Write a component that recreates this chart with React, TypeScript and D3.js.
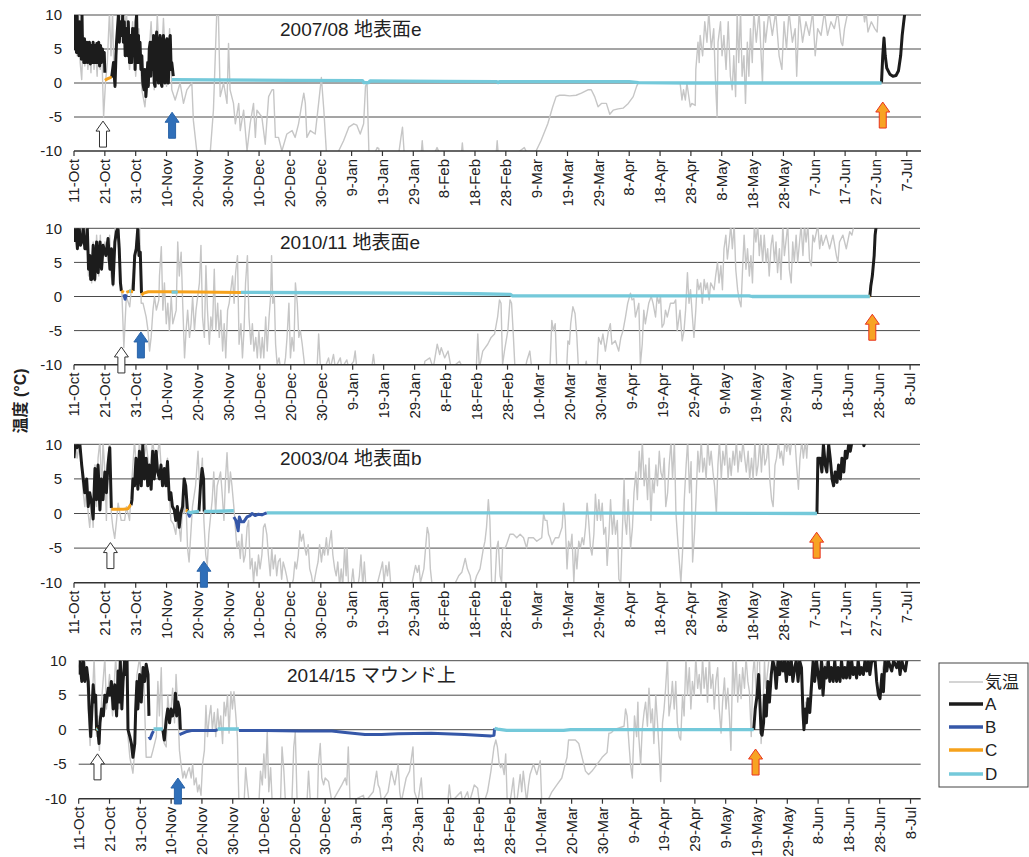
import React from "react";
import * as d3 from "d3";

type Pt = [number, number] | null;
type ArrowKind = "white" | "blue" | "orange";
interface Arrow { kind: ArrowKind; day: number; tip: number }

// ---- 2007/08 地表面e (day offsets from 11-Oct, °C) ----
const air0708: Pt[] = [
  [0,8],[0.5,10.5],[1,4],[1.5,10],[2,3],[2.5,0.5],[3,7],[3.5,2.5],[4,6],[4.5,2],[5,5],[5.5,1.5],[6,6],[6.5,2],[7,5],[7.5,1],[8,6],[8.5,2],[9,5],[9.6,-5],[10.2,0],[10.8,3],[11.5,10.5],[12,4],[12.5,10.5],[13,0],[14,8],[15,10.5],[16,6],[17,10.5],[18,2],[19,9],[20,1],[21,8],[22,-1],[23,-3.5],[24,2],[25,9],[26,-1],[27,10],[28,0],[29,9.5],[30,-0.5],[31,8],
  [31.7,-1],[32.8,-2.5],[34.4,0],[35.5,-3],[36.6,-1],[38.2,0],[38.7,-5.5],[39.8,-10],[40.9,-10.5],[43.1,-10.5],[44.2,-10],[45.2,-4],[46.3,10.5],[46.8,10.5],[47.4,-2],[48.5,0],[49.6,-3],[50.1,5.8],[50.6,-1],[51.7,-3],[52.3,-6],[53.4,-3],[53.9,-7],[55,-4],[56.1,-10],[57.1,-6],[58.2,-3],[58.8,-8],[59.3,-4],[60.9,-5],[62,-9],[63.1,-2],[64.2,-1],[64.7,-1],[65.3,-8],[66.3,-8],[67.4,-10],[69,-7.5],[70.7,-7],[71.7,-8],[72.8,-6],[73.9,-3],[74.5,-1.5],[75,-3],[75.5,-8],[76.6,-7],[78.2,-7.5],[79.3,-3],[80.2,0.8],[81,-4],[81.8,-10],[82.5,-12],[85,-12],[85.8,-10],[87.4,-8.5],[89.1,-6.5],[90.7,-6],[91.7,-6.2],[92.8,-7.5],[93.9,-6],[94.5,-0.5],[95,0],[95.6,-10],[96,-12],[97.8,-10],[98.3,-9.5],[98.8,-9.6],[99.3,-12],[104.8,-12],[106,-8],[106.5,-6.5],[107,-10],[107.5,-12],[112.3,-12],[112.9,-8.5],[113.5,-12],[117.2,-10],[117.7,-9.5],[118.2,-10],[118.7,-12],[125.3,-12],[125.9,-8.8],[126.5,-12],[136.6,-12],[137.2,-8.5],[137.8,-12],[144.5,-10],[146,-9.5],[147.1,-10.5],[149,-10.5],[149.8,-10],[151.4,-8.5],[153.6,-6],[155.2,-3.5],[156.3,-2],[157.4,-1.8],[159,-1.8],[160.7,-1.9],[162.8,-1.8],[164.5,-1.5],[166.6,-1],[167.7,-1],[168.8,-2],[169.9,-3.5],[171,-3],[172.6,-3],[173.7,-4.6],[174.8,-4],[176.4,-3.8],[178,-3.7],[179.7,-3],[181.3,-2],[182.4,-0.5],[182.9,0],[189.5,0],[196.5,0],
  [197.1,-2.5],[197.6,-1],[198.2,-2.5],[198.7,0],[199.8,-3.5],[200.3,-3],[201.4,-3.3],[201.6,2],[202.3,6],[202.7,3],[203,7],[203.8,4],[204.5,9],[205.2,6],[205.8,10.5],[206.6,5],[207.4,8],[207.9,1],[208.5,-5],[208.8,6],[209.6,9],[210.1,4],[210.7,7],[211.4,2],[212.1,9],[212.8,1],[213.4,-1],[213.9,4],[214.5,-2],[215,10.5],[215.5,3],[216.1,10.5],[216.6,1],[217.2,4],[217.7,-3],[218.3,6],[218.8,1],[219.3,8],[219.9,3],[220.4,10.5],[221.2,6],[222.1,10.5],[223.2,0],[223.7,9],[224.2,6],[225.3,10.5],[226.4,7],[227.5,10.5],[228.6,4],[229.5,2],[230.2,9],[231,5],[231.8,10.5],[232.9,6],[233.8,8],[234.3,1],[235.1,10.5],[236.2,6],[237.3,9],[238.4,7],[239.5,10.5],[240.3,4],[241.1,8],[242.2,7],[243.3,10.5],[244.3,7],[245.4,9],[246.5,8],[247.6,10.5],[248.7,6],[249.2,5.5],[249.8,8],[250.9,10.5],[252.5,12],[255.8,11],[256.3,9],[256.8,10.5],[257.4,7.5],[258.5,9],[259.6,8],[260.4,7.5],[260.7,10.5],[262,12],[275,12],
];
const a0708: Pt[] = [
  [0,6],[0.2,10],[0.4,5],[0.6,9],[0.8,4.5],[1,10],[1.2,5],[1.4,8],[1.6,4],[1.8,9],[2,4.5],[2.2,7],[2.4,3.5],[2.6,10],[2.8,4],[3,6],[3.2,3],[3.4,6.5],[3.6,3],[3.8,6],[4,3.5],[4.2,6],[4.4,3],[4.6,5.5],[4.8,3.5],[5,6],[5.3,2.8],[5.6,5.5],[5.9,3],[6.2,6],[6.5,3],[6.8,5.5],[7.1,3],[7.4,5.8],[7.7,3],[8,6],[8.3,2.5],[8.6,5.5],[8.9,3],[9.2,5],[9.5,3.5],[9.8,4.5],[10,1.5],null,
  [12.2,0.8],[12.8,3],[13.3,-0.5],[13.6,4],[13.8,6],[14.1,8],[14.4,10],[14.7,6],[15,9],[15.5,7],[15.8,10],[16,6],[16.3,9],[16.6,4],[17.1,8],[17.4,4],[17.6,9],[18,3],[18.3,7],[18.7,3],[19,8],[19.3,4],[19.6,8],[19.8,2],[20.1,9],[20.3,10],[20.6,3],[20.9,7],[21.1,3],[21.4,6],[21.7,2],[22,4],[22.3,0],[22.7,-1],[23,2],[23.3,-2],[23.6,0],[23.9,3],[24.1,-0.5],[24.4,5],[24.7,6],[24.9,1],[25.2,6],[25.5,2],[25.8,7],[26,0],[26.3,-0.5],[26.5,6],[26.8,7.5],[27.1,1],[27.4,0],[27.6,6],[27.9,7],[28.2,0],[28.5,-0.5],[28.7,6],[29,7],[29.3,1],[29.5,0],[29.8,6],[30.1,6.5],[30.4,0],[30.6,0],[30.9,6],[31.2,7],[31.5,2],[31.7,3],[32.2,1],null,
  [261.8,0.1],[262.2,4],[262.6,6.6],[263,4],[263.5,2.2],[264.5,1.3],[265.5,1],[266.5,1.1],[267.3,1.8],[268,4],[268.5,7],[269,9],[269.4,10.5],
];
const b0708: Pt[] = [];
const c0708: Pt[] = [[10,0.4],[10.8,0.6],[11.8,0.8],[12.2,0.8]];
const d0708: Pt[] = [[31.7,0.5],[45,0.45],[70,0.4],[93.5,0.35],[94,0.05],[95.5,0.05],[96,0.3],[120,0.25],[137,0.2],[137.5,0.05],[138,0.2],[150,0.2],[180,0.2],[183,0.05],[200,0],[261.8,0]];
const arrows0708: Arrow[] = [
  { kind: "white", day: 9.4, tip: -5.6 },
  { kind: "blue", day: 31.8, tip: -4.3 },
  { kind: "orange", day: 262.2, tip: -2.8 },
];

// ---- 2010/11 地表面e ----
const air1011: Pt[] = [
  [0,9],[0.5,10.5],[1,7],[2,10.5],[3,8],[4,10.5],[4.7,3],[5.2,6],[5.7,2],[6.2,8],[6.8,2.2],[7.3,9],[8,3],[8.5,9],[9,4],[10,8],[11,5],[11.5,9],[12,3],[12.6,1.5],[13.3,10.5],[14.5,10.5],[15,3],[15.5,0],[16.1,-7.5],[16.9,0],[18,-1.5],[18.5,1],[19.5,5],[20.1,8],[21.2,10.5],[21.7,-1],[22.3,-1],[23.3,-3],[23.9,-5],[24.4,-8],[24.9,-6],[25.5,-2],[26,0],[26.6,-2],[27.4,-0.5],[27.6,3],[28.2,7.3],[28.7,-2],[29.2,2],[29.8,-4],[30.3,-1],[30.8,-5],[31.4,0],[31.9,-4],[33,-2],[33.5,8],[34,3],[34.6,6.5],[35.1,-1],[35.7,-9],[36.2,-5],[36.7,-2],[37.3,-6],[37.8,-4],[38.3,0],[38.9,-5],[39.4,-2],[40.5,2],[41,7.5],[41.5,-3],[42.1,-6],[42.6,4.5],[43.1,-2],[43.7,-7],[44.2,-3],[44.7,-5],[45.3,4],[45.8,-5],[46.4,-1],[46.9,-6],[47.4,-2],[48,-8],[48.5,-4],[49,-9],[49.6,-2],[50.1,-1],[51.2,3],[51.7,-1],[52.2,3.5],[52.8,6],[53.3,-7],[53.9,-4],[54.4,-9],[54.9,-5],[55.4,2],[56,6],[56.5,-3],[57.1,-7],[57.6,-4],[58.1,-8],[58.7,-6],[59.2,-9],[59.7,-5],[60.3,-9],[60.8,-6],[61.3,-9],[61.9,-3],[62.4,-8],[63,-3],[63.5,0],[63.8,6],[64.2,-1],[64.7,0],[65.1,-7],[65.6,-10],[66.2,-9],[66.7,-10.5],[67.8,-10.5],[68.3,-9],[68.8,-6],[69.4,-1],[69.9,-9],[70.4,-6],[71,-8],[71.5,2],[72.1,-1],[72.6,-6],[73.1,-5],[73.7,-7],[74.2,-9],[74.7,-11],[78,-11],[78.5,-10.5],[79,-5.5],[79.6,-10.5],[80.6,-11],[82.2,-9],[82.8,-10.5],[83.8,-8.5],[84.4,-10.5],[86,-9],[86.5,-10.5],[88.1,-9.3],[88.7,-10.5],[90.3,-9.5],[90.8,-8],[91.3,-10.5],[96,-11],[96.7,-8.5],[97.2,-10.5],[98,-12],[112.5,-12],[113.3,-9.5],[114.9,-9],[116,-10.5],[117.3,-7],[118.1,-8.5],[118.6,-7.5],[119.7,-9],[120.8,-8],[121.8,-10.5],[124.5,-9.5],[125.6,-10.5],[129.9,-10.5],[130.4,-5.5],[130.9,-10.5],[132,-8],[133.6,-7],[134.7,-6],[135.8,-5.5],[136.8,-3],[137.4,-0.5],[137.9,-1],[138.4,-10],[139,-8],[140.1,-5],[140.8,-0.5],[141.3,-1],[141.8,-5],[142.4,-10.5],[145.5,-11],[146.2,-9.5],[147.2,-8],[147.8,-10.5],[153.5,-11],[153.7,-10.5],[154.3,-3.5],[154.8,-5],[155.4,-4],[155.9,-10.5],[159.1,-10.5],[159.5,-6.5],[160,-7],[160.4,-4],[161.1,-1.5],[161.8,-2.5],[162.4,-6],[162.9,-10.5],[165,-10.5],[165.4,-9.5],[165.8,-10.5],[168.9,-10.5],[169.4,-6],[170.2,-7],[170.8,-5.5],[171.6,-8],[172.6,-5],[173.2,-4],[173.7,-7],[174.8,-6.5],[175.9,-8],[176.6,-6],[177.3,-5],[178.1,-3],[178.8,-1],[179.7,0.5],[180.2,-0.5],[180.8,-0.3],[181.3,-3],[182.4,-1],[182.9,-10],[183.5,-7],[184,-2],[184.5,-4],[185.6,-1],[186.4,0],[187,-1],[187.8,-3],[188.3,0],[188.9,-1],[189.4,0],[189.9,-4.5],[190.5,-4],[191,-2],[191.6,-3],[192.6,-1],[193.7,-1],[194.3,-0.5],[194.8,-5],[195.7,-2],[196.4,-6.5],[197,-5],[197.5,-2],[198.1,3.5],[198.6,-1],[199.1,1],[199.7,-3],[200.2,-6],[200.8,-2],[201.3,2.5],[201.8,1],[202.4,2],[202.9,-1],[203.5,2.5],[204,1],[204.5,2],[205.1,-0.5],[205.6,2],[206.7,1],[207.2,3],[207.8,5],[208.3,2],[208.9,4.5],[209.4,1],[209.9,7],[210.5,9],[211,5.5],[211.6,8],[212.1,10.5],[212.6,7],[213.2,10.5],[213.7,4],[214.3,1],[214.8,-0.5],[215.4,-1.5],[215.9,4],[216.4,9],[217,4],[217.5,7],[218.1,3],[218.6,6],[219.1,2],[219.7,10.5],[220.2,8],[220.8,10.5],[221.3,6],[221.8,9],[222.4,5],[222.9,9],[223.5,5],[224,7],[224.5,3],[225.1,7.5],[225.6,9],[226.2,5],[226.7,8],[227.2,3.5],[227.8,7],[228.3,2.5],[228.9,10.5],[229.4,6],[230.5,10.5],[231,4],[231.6,2],[232.1,8],[232.6,5],[233.2,9],[233.7,5],[234.3,8],[234.8,10.5],[235.4,6],[235.9,10.5],[236.4,8],[237,10.5],[237.5,5.5],[238.1,4.5],[238.6,9],[239.1,8],[240.2,10.5],[240.8,7],[241.3,9],[241.8,7.5],[242.9,9],[244,7],[245.1,9],[246.2,6],[246.7,5],[247.2,8],[248.3,9],[249.4,7],[250.5,9.5],[251.2,9],[251.9,10.5],[253,12],[274,12],
];
const a1011: Pt[] = [
  [0,8],[0.3,10],[0.6,10],[1.1,7],[1.4,10],[1.7,10],[2.1,7.5],[2.5,8],[3,10],[3.5,7],[3.9,7],[4.3,10],[4.7,4],[5.1,6],[5.4,2.5],[5.7,2.5],[6.2,7.5],[6.7,2.5],[7.3,8],[7.8,3.5],[8.4,8],[8.9,4],[9.4,7.5],[10.3,6],[11,8.5],[11.6,4],[12.1,7],[12.6,1.8],[13.2,8],[13.7,9.5],[14.2,10],[14.6,7],[15,2],[15.3,0.8],null,
  [19.1,0.8],[19.6,6],[20.1,7],[20.6,10],[21,6],[21.4,6.5],[21.8,0.5],null,
  [257,0],[257.3,1.5],[257.8,3],[258.4,6],[258.7,9],[259.1,10.5],
];
const b1011: Pt[] = [[16.1,0.3],[16.5,-0.4],[16.9,0.3]];
const c1011: Pt[] = [[15.3,0.8],[16.1,0.6],null,[16.9,0.6],[18,0.8],[19.1,0.7],null,[21.8,0.2],[22.5,0.5],[24,0.7],[30,0.7],[40,0.65],[53.9,0.6],null,[256.6,0],[257.1,0.1]];
const d1011: Pt[] = [[17.8,0.8],[18.4,0.8],null,[31.5,0.65],[33.5,0.65],null,[53.9,0.6],[80,0.55],[110,0.5],[130,0.4],[141,0.3],[141.5,0.1],[218,0.1],[219,0],[257,0]];
const arrows1011: Arrow[] = [
  { kind: "white", day: 15.3, tip: -7.4 },
  { kind: "blue", day: 21.6, tip: -5.2 },
  { kind: "orange", day: 257.8, tip: -2.6 },
];

// ---- 2003/04 地表面b ----
const air0304: Pt[] = [
  [0,9],[0.5,10.5],[1,8],[2,10.5],[2.5,6],[3,3],[3.5,1],[4,4],[4.6,0],[5.1,-2],[5.7,2],[6.2,-2],[6.8,7],[7.3,1],[7.8,8],[8.4,10.5],[9,3],[9.4,10.5],[10,6],[10.5,-1],[11,8],[11.6,10.5],[12.1,0],[12.6,-2],[13.2,-3.6],[13.8,-1],[14.3,1.5],[15.3,-1],[16.4,-1],[17,1],[18,-1],[18.5,3],[19.1,7],[19.6,10.5],[20.5,5],[21.2,10.5],[22,6],[23.4,10],[24.5,6],[25.5,10.5],[26.5,7],[27.7,10.5],[28.5,5],[29.3,5],[30.3,8],[31,2],[31.4,-1],[32.2,-1.5],[33,-3],[33.6,0],[34.6,-4],[35.2,1],[35.7,0],[36.2,3],[36.8,-5],[37.3,-7],[38.4,1],[39.4,4],[40.2,9],[40.8,3],[41.6,8],[42.1,-1],[42.7,-6],[43.2,-7.5],[43.7,-3],[44.8,2],[45.3,6],[45.9,0],[46.4,4],[47.5,6],[48,3],[48.6,-1],[49.1,5],[49.6,8.8],[50.2,3],[50.7,6],[51.2,4],[51.8,1],[52.3,-2],[52.8,-5],[53.4,-4],[53.9,-6.5],[54.4,-3],[55,-7],[55.5,-6],[56.1,-2],[56.6,-1],[57.1,-8],[57.7,-6.5],[58.2,-10],[58.7,-7],[59.3,-9],[59.8,-6],[60.3,-8],[60.9,-6],[61.4,-2],[61.9,-1.5],[62.5,-3],[63,-6],[63.6,-9],[64.1,-5],[64.6,-8],[65.2,-6],[65.7,-9],[66.2,-7],[66.8,-6.5],[67.3,-9.5],[67.8,-7],[68.4,-8],[68.9,-9],[69.5,-10.5],[70.5,-10.5],[71.1,-9.5],[71.6,-7],[72.1,-8],[72.7,-6],[73.2,-2.5],[73.7,-4],[74.3,-3],[74.8,-5],[75.3,-6],[75.9,-4.5],[76.4,-8],[77,-9],[77.5,-10.5],[78,-9.5],[78.6,-8],[79.1,-7],[79.6,-4.5],[80.2,-7],[80.7,-5],[81.2,-6],[81.8,-3.5],[82.3,-6],[82.9,-4],[83.4,-2.5],[83.9,-6],[84.5,-8],[85,-9],[85.5,-7],[86.1,-10.5],[86.6,-8],[87.1,-10.5],[87.7,-5],[88.2,-9],[88.5,-5],[89,-10.5],[89.8,-10.5],[90.4,-8],[90.9,-10.5],[92,-10.5],[92.5,-9],[93,-6],[93.6,-10.5],[94.1,-7],[94.6,-10.5],[95,-12],[98,-12],[98.4,-10],[99.5,-8],[100,-7],[100.5,-10],[101.1,-7.5],[101.6,-9],[102.1,-7],[102.7,-10.5],[103.2,-12],[109,-12],[109.6,-10],[110.7,-7.5],[111.3,-8.5],[111.8,-7.5],[112.3,-10],[113.4,-8],[114.5,-2],[115,-3],[115.5,-8],[116.1,-10.5],[116.6,-12],[123,-12],[123.6,-10],[124.7,-9],[125.7,-8.5],[126.8,-6.5],[127.5,-8],[128.4,-9],[128.9,-10.5],[129.5,-10.5],[130.5,-9],[131.6,-8],[132.7,-5],[133.2,-4],[133.7,-2],[134.3,2],[134.8,-1],[135.4,-10.5],[136.4,-10.5],[137,-5],[137.5,-4],[138.1,-9],[138.6,-10],[138.9,-5],[139.7,-5],[140.2,-4.5],[141.3,-3],[142.4,-3],[143.5,-3.5],[144.6,-3],[145.7,-3.5],[146.7,-5],[147.3,-3.5],[147.8,-3.5],[148.9,-3.5],[150,-4],[151.6,-3.5],[152.2,0],[152.7,-1],[153.3,-1],[153.8,-3],[154.3,-3.5],[154.9,-4.5],[156,-3.5],[157.1,-3.5],[158.2,-2],[158.7,1.5],[159.2,-1],[159.8,-8],[160.3,-4],[160.9,-5],[161.4,-3],[162,-10],[162.5,-5],[163,-8],[163.6,-4],[164.1,-5],[164.7,-3.5],[165.2,-4.5],[165.8,-2],[166.3,1.5],[166.8,-1],[167.4,-5],[167.9,-6],[168.5,-3],[169,2.8],[169.6,-1],[170.1,2],[170.7,-1],[171.2,1.5],[171.7,-3],[172.3,-2],[172.8,-7.5],[173.4,-3],[173.9,2],[174.5,-3],[175,0],[175.5,-3],[176.1,-1],[176.6,-9.5],[177.2,-10],[177.7,-3],[178.3,5],[178.6,-1],[179.1,-3],[179.6,2],[180,-1],[180.4,-5],[181,-2],[181.5,3],[182.1,6],[182.6,2],[183.2,9],[183.7,5],[184.2,10.5],[184.8,4],[185.3,7],[185.9,2],[186.4,8],[187,-1],[187.5,5],[188,3],[188.6,7],[189.1,4],[189.7,9],[190.2,6],[190.8,5],[191.3,8],[191.8,1],[192.4,3],[192.9,7],[193.5,10.5],[194,5],[194.6,10.5],[195.1,0],[195.7,-4],[196.2,-7],[196.7,-10],[197.3,-5],[197.8,2],[198.4,7],[198.9,10.5],[199.5,3],[200,7.5],[200.5,-7],[201.1,-3],[201.6,2],[202.2,9],[202.7,6],[203.3,10.5],[203.8,6],[204.3,8],[204.9,5],[205.4,10.5],[206,7],[206.5,9],[207.1,6],[207.6,4],[208.2,0],[208.7,7],[209.2,10.5],[209.8,5],[210.3,9],[210.9,7],[211.4,10.5],[212,5],[212.5,8],[213,5.5],[213.6,9],[214.1,7],[214.7,10.5],[215.2,6],[215.8,9],[216.3,7.5],[216.8,10.5],[217.4,8],[217.9,6],[218.5,9],[219,5],[219.6,8],[220.1,5],[220.7,10.5],[221.2,5.5],[221.7,7],[222.3,10.5],[222.8,6],[223.4,10.5],[223.9,7],[224.5,8],[225,10.5],[225.5,5],[226.1,2],[226.6,1],[227.2,7],[227.7,8],[228.3,10.5],[228.8,8],[229.3,9],[229.9,7],[230.4,10.5],[231,9],[231.5,10.5],[232.1,8.5],[232.6,10.5],[233.7,10.5],[234.2,7],[234.8,3.5],[235.3,8],[235.9,10.5],[236.4,8],[237,10.5],[237.5,8],[238,12],[275,12],
];
const a0304: Pt[] = [
  [0,8],[0.3,10],[0.6,10],[1,9.5],[1.4,10],[1.9,10],[2.5,7],[3,5],[3.5,3],[4.1,5],[4.6,1],[5.1,3],[5.7,1.5],[6.2,-0.8],[6.8,6.5],[7.3,2],[7.8,7],[8.4,0.5],[8.9,5],[9.4,2],[10,6],[10.5,3],[11,7],[11.6,9.5],[12.1,0.8],null,
  [18.5,1.2],[18.8,2],[19.1,5],[19.6,4],[20.1,8],[20.7,3.5],[21.2,9],[21.8,4],[22.3,10],[22.8,5],[23.4,8],[23.9,4],[24.4,7],[25,3.5],[25.5,9],[26,5],[26.6,9],[27.1,6],[27.7,5],[28.2,7],[28.7,4],[29.3,6.5],[29.8,4],[30.3,7.5],[30.9,2],[31.4,3],[31.9,1],[32.5,0.5],[33,-1],[33.5,1],[34.1,-2],[34.6,0],[35.2,1],[35.7,5],[36.2,4],[36.8,0.3],null,
  [40.5,0.3],[41,4],[41.5,6.5],[42,5],[42.2,0.3],null,
  [240.8,0],[241.1,8],[241.8,8],[242.4,6],[242.9,10],[243.5,7],[244,6],[244.6,10],[245.1,8],[245.7,5],[246.2,4],[246.7,6],[247.3,4.5],[247.8,7],[248.4,5],[248.9,8],[249.5,6],[250,9],[250.5,8],[251.1,10],[251.6,9],[252.2,10.5],null,
  [255.8,10.5],[256,9.8],[256.5,10.5],
];
const b0304: Pt[] = [[36.9,0.2],[37.4,-0.4],[37.9,0.1],null,[51.8,-0.5],[52.5,-1],[53.2,-2.5],[53.6,-0.5],[54.2,-1.2],[55,-1.2],[56.1,-0.5],[57.1,-0.3],[57.7,0],[58.7,-0.3],[59.8,-0.1],[60.9,-0.2],[61.9,0],[62.5,0.1]];
const c0304: Pt[] = [[12.1,0.6],[14,0.6],[16,0.6],[17.5,0.7],[18.3,1.2],[18.5,1.2],null,[36.2,0.5],[36.8,0.4]];
const d0304: Pt[] = [[36.8,0.3],[37.9,0.1],[38.5,0.2],[40.5,0.3],null,[42.2,0.3],[45,0.3],[51.8,0.4],null,[62.5,0.1],[100,0.1],[140,0.1],[240.8,0]];
const arrows0304: Arrow[] = [
  { kind: "white", day: 11.8, tip: -4.2 },
  { kind: "blue", day: 42.1, tip: -6.9 },
  { kind: "orange", day: 240.7, tip: -2.7 },
];

// ---- 2014/15 マウンド上 ----
const air1415: Pt[] = [
  [0,9],[0.5,10.5],[1,7],[2,10.5],[2.8,6],[3.4,0],[3.7,-2.3],[4.2,2],[5,10.5],[5.8,-1],[6.2,2],[6.7,-3],[7.4,4],[8.5,10.5],[9,3],[10,8],[11,2],[12,10.5],[13,3],[14,10.5],[15,10.5],[15.7,10],[16,-1],[16.6,-4],[17.6,-6.3],[18.2,-3],[18.9,8],[19.8,10.5],[20.5,6],[21,9],[21.9,-4],[23,-4],[23.5,-4],[24.1,-3],[25.2,-1],[25.7,7],[26.2,2],[26.8,9],[27.3,-1],[27.8,-2],[28.4,-2.5],[28.9,5],[29.5,2],[30,3],[30.5,6],[31.1,1],[31.6,8],[32.2,3],[32.7,-3],[33.2,-5],[33.8,-7],[34.3,-6],[34.8,-7],[35.4,-6],[35.9,-5.5],[36.5,-7],[37,-5],[37.5,-8],[38.1,-7],[38.6,-9],[39.1,-8],[39.7,-9.5],[40.2,-5],[40.8,-3],[41.3,3.5],[41.8,-1],[42.4,2],[42.9,3.5],[43.4,0],[44,2.5],[44.5,-1],[45.1,3],[45.6,0],[46.1,2],[46.7,-2],[47.2,4],[47.7,2],[48.3,5],[48.8,-0.5],[49.4,5.5],[49.9,3],[50.4,5.5],[51,2],[51.5,-1],[51.8,-7],[52,-10.5],[53.7,-10.5],[54.2,-5.5],[54.7,-8],[55.3,-10.5],[58.5,-10.5],[59,-6],[59.6,-8],[60.1,-3.5],[60.6,-7],[61.2,-0.3],[61.7,-9],[62.3,-5.5],[62.8,-10.5],[65.5,-10.5],[66,-2.5],[66.6,-6],[67.1,-10.5],[69.2,-10.5],[69.8,-2.5],[70.3,-0.3],[70.9,-10.5],[74.1,-10.5],[74.6,-6],[75.2,-10.5],[77.5,-10.5],[77.8,-5],[78.4,-2],[78.9,-7],[79.5,-8],[80,-7],[81.1,-7.5],[82.2,-10.5],[85.4,-8],[86.5,-7],[87,-8],[87.5,-2.5],[88.1,-10.5],[92.4,-9.5],[92.9,-10.5],[95.6,-9],[96.7,-6],[97.2,-8],[97.7,-8.5],[98.3,-10.5],[100.4,-9],[101.5,-6],[102.6,-8],[103.7,-5],[104.2,-9],[104.7,-10.5],[106.3,-7],[107.4,-6],[108.5,-2.5],[109,-9],[110.1,-10.5],[111.2,-7],[111.7,-10.5],[112.5,-12],[119.5,-12],[120.3,-8],[120.9,-10.5],[124.1,-9],[124.6,-10.5],[126.2,-9],[126.8,-10.5],[127.8,-9],[128.4,-8],[129.5,-8.5],[130,-10.5],[131.6,-10.5],[132.7,-9],[133.8,-6],[134.8,-2.5],[135.4,-1.5],[135.9,-2.5],[136.5,-5],[137,-5.5],[137.5,-5],[138.1,-6.5],[138.6,-3.5],[139.1,-10.5],[140,-10.5],[140.5,-9],[141.1,-7],[141.6,-10.5],[142.2,-10.5],[143.3,-6.5],[143.8,-9],[144.3,-6],[145.4,-10.5],[146,-8],[146.5,-6.5],[147.6,-5],[148.7,-6.5],[149.8,-4.5],[150.3,-10.5],[152,-10.5],[153.6,-9],[155.2,-8],[156.8,-7],[157.9,-5],[158.5,-4],[159,-1.5],[160.1,-1.5],[161.2,-1.5],[162.3,-2],[163.4,-4],[164.5,-6],[165.5,-6.5],[166.6,-6],[168.3,-5],[169.9,-4],[171.5,-3.3],[172.1,-0.5],[172.6,-0.5],[173.2,-0.3],[173.7,0],[177,0.5],[177.5,3],[178,2],[178.6,-2],[179.1,-5],[179.7,-7],[180,-3],[180.4,2],[181.1,-1],[181.5,4],[181.8,-1],[182.4,-5],[182.9,0],[183.5,2.5],[184,4],[184.6,0.5],[185.1,6],[185.7,1],[186.2,3],[186.7,-2],[187.3,5],[187.8,1.5],[188.4,-3],[188.9,-7.5],[189.5,1],[190,3],[190.5,6],[191.1,10.5],[191.6,2],[192.2,4],[192.7,7],[193.3,3],[193.8,7],[194.3,1],[194.9,-1],[195.4,-1.5],[196,5],[196.5,2],[197.1,10.5],[197.6,5],[198.2,9],[198.7,3],[199.2,7],[199.8,5],[200.3,10.5],[200.9,6],[201.4,8],[202,5],[202.5,10.5],[203,6],[203.6,9],[204.1,4],[204.7,10.5],[205.2,6],[205.8,8],[206.3,3],[206.8,7],[207.4,9],[207.9,3],[208.5,-0.5],[209,4],[209.6,7.5],[210.1,3],[210.7,6],[211.2,2],[211.7,-3],[212.3,10.5],[212.8,5],[213.4,10.5],[213.9,4],[214.5,8],[215,4.5],[215.5,9],[216.1,6],[216.6,10.5],[217.2,7],[217.7,5.5],[218.3,-1],[218.8,8],[219.3,10.5],[219.9,5],[220.4,10.5],[221,10],[221.5,-2],[222.1,3],[222.6,10],[223,6],[224,10],[225,11],[227,9],[229,12],[231,9],[233,12],[234.5,9],[235.2,1],[235.4,0.3],[236,4],[237,3],[238,9],[240,12],[242,9],[245,12],[248,10],[250,12],[253,10],[256,12],[258.5,11],[259.5,5],[260,4.5],[261,9],[263,12],[266,10],[268,12],[274,12],
];
const a1415: Pt[] = [
  [0,8],[0.4,10],[1,7],[1.5,10],[2,7],[2.6,9],[3.1,7],[3.4,3],[3.9,-1],[4.3,3],[4.7,6.5],[5.1,4],[5.5,5],[5.8,0],[6.1,0.5],[6.6,-2],[6.9,1],[7.4,3],[8,2],[8.5,5],[9,4],[9.6,6],[10.1,5],[10.6,7],[11.2,3],[11.7,6.5],[12.3,2],[12.8,8.5],[13.1,4],[13.5,10],[14,3],[14.4,7],[14.9,10],[15.3,8],[15.7,10],[16,0],[16.6,-1],[17.1,-2],[17.6,-4],[18.2,-2],[18.5,3],[18.9,7],[19.2,3],[19.8,8],[20.3,4],[20.9,9],[21.4,7],[21.9,9.5],[22.5,8],[22.8,2],null,
  [27.3,0],[27.8,-1.5],[28.4,1.5],[28.9,3],[29.5,1],[30,3],[30.5,2],[31.1,3],[31.4,5.3],[31.8,2],[32.2,4],[32.7,3],[33,0],null,
  [219.1,0],[219.6,3],[220.2,5],[220.7,8],[221.1,4],[221.5,-0.5],[221.8,-0.8],[222.3,1],[222.6,5],[223.2,2],[223.7,7],[224.2,4],[224.8,8],[225.3,10],[225.9,9],[226.4,6],[227,10],[227.5,8],[228,10],[228.6,8.5],[229.1,10],[229.7,7],[230.2,10],[230.8,8],[231.3,10],[231.8,7],[232.4,9],[232.9,10],[233.5,7],[234,10],[234.6,9],[235.1,2.4],[235.4,0],[235.9,3],[236.2,1],[236.7,4.5],[237.3,2.5],[237.8,6],[238.4,10],[238.9,7],[239.5,10],[240,8],[240.5,6],[241.1,10],[241.6,5],[242.2,9],[242.7,7.5],[243.3,10],[243.8,7],[244.3,9],[244.9,7],[245.4,10],[246,7],[246.5,9],[247.1,7],[247.6,10],[248.2,7.5],[248.7,9],[249.2,7.5],[249.8,10],[250.3,7.5],[250.9,10],[251.4,8],[252,9],[252.5,7.5],[253,10],[253.6,8],[254.1,9],[254.7,8],[255.2,10],[255.8,8.5],[256.3,10],[256.8,8],[257.4,10],[258.5,10],[259,7],[259.6,5],[260.1,4.5],[260.7,8],[261.2,5.5],[261.7,10],[262.3,8.5],[262.8,10],[263.9,8.5],[264.5,10],[265.5,9],[266.1,10],[266.6,8],[267.2,10],[267.7,9],[268.3,8.5],[268.8,10],
];
const b1415: Pt[] = [[22.8,-1],[23.2,-1.3],[23.9,-0.5],[24.3,-0.2],null,[32.7,-0.7],[34.8,-0.3],[37,-0.1],[44.5,-0.1],[45.1,0],null,[52,-0.1],[60.6,-0.1],[71.4,-0.2],[82.2,-0.2],[86.5,-0.4],[92.9,-0.7],[98.3,-0.7],[103.7,-0.6],[114.4,-0.5],[125.2,-0.7],[133.8,-0.9],[134.8,-0.8],[135,0.2]];
const c1415: Pt[] = [[5.6,0.1],[6,0.1]];
const d1415: Pt[] = [[5.8,0],[6.1,0.1],null,[24.3,0.1],[27.3,0.1],null,[45.1,0.1],[52,0.1],null,[135,0.2],[136,0.1],[138.9,-0.1],[157.4,-0.1],[159.6,0],[219.1,0]];
const arrows1415: Arrow[] = [
  { kind: "white", day: 6.1, tip: -3.5 },
  { kind: "blue", day: 32.2, tip: -7 },
  { kind: "orange", day: 219.7, tip: -2.8 },
];

const titles = ["2007/08 地表面e", "2010/11 地表面e", "2003/04 地表面b", "2014/15 マウンド上"];
const seasonStarts = [Date.UTC(2007, 9, 11), Date.UTC(2010, 9, 11), Date.UTC(2003, 9, 11), Date.UTC(2014, 9, 11)];
const yTicks = [-10, -5, 0, 5, 10];
const legendItems = ["気温", "A", "B", "C", "D"];

const COLORS: Record<string, string> = { 気温: "#c6c6c6", A: "#1c1c1c", B: "#3557a8", C: "#f6a21c", D: "#74c9da" };
const WIDTHS: Record<string, number> = { 気温: 1.4, A: 3, B: 3, C: 3, D: 3.3 };

const panelData = [
  { air: air0708, A: a0708, B: b0708, C: c0708, D: d0708, arrows: arrows0708 },
  { air: air1011, A: a1011, B: b1011, C: c1011, D: d1011, arrows: arrows1011 },
  { air: air0304, A: a0304, B: b0304, C: c0304, D: d0304, arrows: arrows0304 },
  { air: air1415, A: a1415, B: b1415, C: c1415, D: d1415, arrows: arrows1415 },
];

// plot boxes in pixels and the number of days each x axis spans
const boxes = [
  { top: 15, bottom: 151, left: 74, right: 921, span: 274.6, titleX: 280 },
  { top: 228.3, bottom: 364.7, left: 74, right: 920, span: 273.2, titleX: 280 },
  { top: 444.3, bottom: 582.7, left: 74, right: 920, span: 274.2, titleX: 280 },
  { top: 660.7, bottom: 798.7, left: 78.7, right: 920.7, span: 273.3, titleX: 287 },
];

const DAY = 86400000;
const FONT = "'Liberation Sans', Arial, 'Noto Sans CJK JP', sans-serif";
const fmt = d3.utcFormat("%-d-%b");

const ARROW_PATH = "M0,0 L7,10 L3.5,10 L3.5,26 L-3.5,26 L-3.5,10 L-7,10 Z";
const arrowStyle: Record<ArrowKind, { fill: string; stroke: string }> = {
  white: { fill: "#ffffff", stroke: "#333333" },
  blue: { fill: "#2f6fb9", stroke: "#2b64a8" },
  orange: { fill: "#f7a323", stroke: "#e8341f" },
};

function Panel({ idx }: { idx: number }) {
  const box = boxes[idx];
  const data = panelData[idx];
  const start = seasonStarts[idx];
  const x = d3.scaleUtc().domain([new Date(start), new Date(start + box.span * DAY)]).range([box.left, box.right]);
  const y = d3.scaleLinear().domain([-10, 10]).range([box.bottom, box.top]);
  const px = (d: number) => x(new Date(start + d * DAY));
  const line = d3
    .line<Pt>()
    .defined((p) => p !== null)
    .x((p) => px((p as [number, number])[0]))
    .y((p) => y((p as [number, number])[1]));
  const ticks = d3.range(0, 271, 10).map((i) => d3.utcDay.offset(new Date(start), i));
  const clipId = `plot-clip-${idx}`;
  return (
    <g>
      <defs>
        <clipPath id={clipId}>
          <rect x={box.left} y={box.top} width={box.right - box.left} height={box.bottom - box.top} />
        </clipPath>
      </defs>
      {yTicks.map((t) => (
        <g key={t}>
          {t > -10 && <line x1={box.left} x2={box.right} y1={y(t)} y2={y(t)} stroke="#4a4a4a" strokeWidth={1} />}
          <text x={box.left - 12} y={y(t)} dy="0.35em" textAnchor="end" fontSize={15} fill="#222">{t}</text>
        </g>
      ))}
      <text x={box.titleX} y={box.top + 21} fontSize={19} fill="#222">{titles[idx]}</text>
      <g clipPath={`url(#${clipId})`} fill="none" strokeLinejoin="round">
        <path d={line(data.air) || ""} stroke={COLORS["気温"]} strokeWidth={WIDTHS["気温"]} />
        <path d={line(data.A) || ""} stroke={COLORS.A} strokeWidth={WIDTHS.A} />
        <path d={line(data.B) || ""} stroke={COLORS.B} strokeWidth={WIDTHS.B} />
        <path d={line(data.C) || ""} stroke={COLORS.C} strokeWidth={WIDTHS.C} />
        <path d={line(data.D) || ""} stroke={COLORS.D} strokeWidth={WIDTHS.D} />
      </g>
      <line x1={box.left} x2={box.right} y1={box.bottom} y2={box.bottom} stroke="#333" strokeWidth={1.6} />
      {ticks.map((t, i) => (
        <g key={i} transform={`translate(${x(t)},${box.bottom})`}>
          <line y1={0} y2={5} stroke="#333" strokeWidth={1.2} />
          <text transform="rotate(-90)" x={-8} dy="0.35em" textAnchor="end" fontSize={15} fill="#222">{fmt(t)}</text>
        </g>
      ))}
      {data.arrows.map((a, i) => (
        <path key={i} d={ARROW_PATH} transform={`translate(${px(a.day)},${y(a.tip)})`}
          fill={arrowStyle[a.kind].fill} stroke={arrowStyle[a.kind].stroke} strokeWidth={1} />
      ))}
    </g>
  );
}

export default function App() {
  const lx = 939, ly = 663;
  const rowY = [682, 704, 727, 750, 774];
  return (
    <svg width={1029} height={857} style={{ position: "absolute", left: 0, top: 0, fontFamily: FONT, background: "#fff" }}>
      <rect width={1029} height={857} fill="#fff" />
      {boxes.map((_, i) => <Panel key={i} idx={i} />)}
      <text transform="translate(26,401) rotate(-90)" textAnchor="middle" fontSize={16} fontWeight="bold" fill="#222">温度 (°C)</text>
      <rect x={lx} y={ly} width={89} height={124} fill="#fff" stroke="#444" strokeWidth={1} />
      {legendItems.map((k, i) => (
        <g key={k}>
          <line x1={949} x2={983} y1={rowY[i]} y2={rowY[i]} stroke={COLORS[k]} strokeWidth={i === 0 ? 1.4 : 3.4} />
          <text x={985} y={rowY[i]} dy="0.36em" fontSize={17} fill="#222">{k}</text>
        </g>
      ))}
    </svg>
  );
}
